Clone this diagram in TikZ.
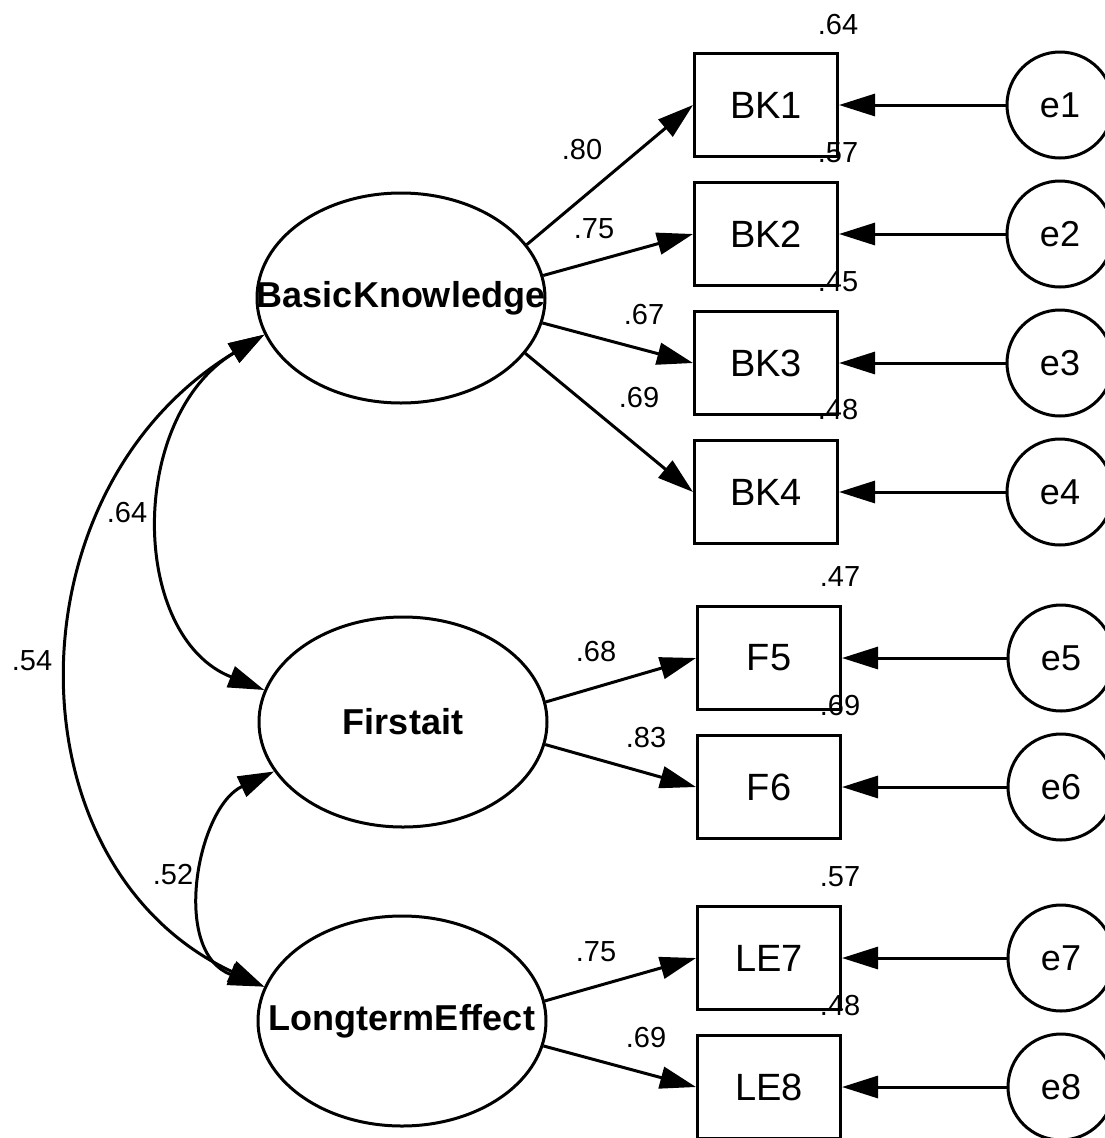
\documentclass[tikz,border=0pt]{standalone}
\usepackage{fontspec}
\setmainfont{Liberation Sans}
\usetikzlibrary{shapes.geometric,arrows.meta}
\begin{document}
\begin{tikzpicture}[x=1pt,y=-1pt,
  lat/.style={draw,ellipse,line width=3pt,minimum width=288pt,minimum height=210pt,inner sep=0pt},
  lattext/.style={font=\fontsize{36}{40}\selectfont\bfseries,inner sep=0pt},
  obs/.style={draw,rectangle,line width=3pt,minimum width=143pt,minimum height=103pt,inner sep=0pt,font=\fontsize{38}{42}\selectfont},
  err/.style={draw,circle,line width=3pt,minimum size=106pt,inner sep=0pt,font=\fontsize{36}{40}\selectfont},
  coef/.style={font=\fontsize{29}{32}\selectfont,inner sep=0pt},
  arr/.style={line width=3pt,-{Triangle[length=36pt,width=22pt]}},
  cov/.style={line width=3pt,{Triangle[length=36pt,width=22pt]}-{Triangle[length=36pt,width=22pt]}}]
\useasboundingbox (0,0) rectangle (1104,1138);
\fill[white] (0,0) rectangle (1104,1138);
% latent variables
\node[lat] (BK) at (401,298) {};
\node[lattext] (BKt) at (BK) {BasicKnowledge};
\node[lat] (F) at (403,722) {};
\node[lattext] (Ft) at (F) {Firstait};
\node[lat] (LE) at (402,1021) {};
\node[lattext] (LEt) at (LE) {LongtermEffect};
% observed
\node[obs] (BK1) at (766,105) {BK1};
\node[obs] (BK2) at (766,234) {BK2};
\node[obs] (BK3) at (766,363) {BK3};
\node[obs] (BK4) at (766,492) {BK4};
\node[obs] (F5) at (769,658) {F5};
\node[obs] (F6) at (769,787) {F6};
\node[obs] (LE7) at (769,958) {LE7};
\node[obs] (LE8) at (769,1087) {LE8};
% errors
\node[err] (e1) at (1060,105) {e1};
\node[err] (e2) at (1060,234) {e2};
\node[err] (e3) at (1060,363) {e3};
\node[err] (e4) at (1060,492) {e4};
\node[err] (e5) at (1061,658) {e5};
\node[err] (e6) at (1061,787) {e6};
\node[err] (e7) at (1061,958) {e7};
\node[err] (e8) at (1061,1087) {e8};
% loadings
\draw[arr] (BK.23.6) -- (BK1.west);
\draw[arr] (BK.9) -- (BK2.west);
\draw[arr] (BK.350.5) -- (BK3.west);
\draw[arr] (BK.336) -- (BK4.west);
\draw[arr] (F.8.7) -- (F5.west);
\draw[arr] (F.351) -- (F6.west);
\draw[arr] (LE.8.3) -- (LE7.west);
\draw[arr] (LE.350.5) -- (LE8.west);
% error paths
\foreach \i/\b in {1/BK1,2/BK2,3/BK3,4/BK4,5/F5,6/F6,7/LE7,8/LE8}
  \draw[arr] (e\i.west) -- (\b.east);
% covariances
\draw[cov] (BK.195) to[out=211,in=158.5,out distance=160pt,in distance=145pt] (F.167);
\draw[cov] (BK.195) to[out=211,in=155,out distance=300pt,in distance=285pt] (LE.166);
\draw[cov] (F.201) to[out=205,in=160,out distance=85pt,in distance=100pt] (LE.166);
% loading labels
\node[coef] (l1) at (582,150) {.80};
\node[coef] (l2) at (594,229) {.75};
\node[coef] (l3) at (644,315) {.67};
\node[coef] (l4) at (639,398) {.69};
\node[coef] (l5) at (596,652) {.68};
\node[coef] (l6) at (646,738) {.83};
\node[coef] (l7) at (596,952) {.75};
\node[coef] (l8) at (646,1038) {.69};
% squared multiple correlations
\node[coef] (r1) at (838,25) {.64};
\node[coef] (r2) at (838,153) {.57};
\node[coef] (r3) at (838,282) {.45};
\node[coef] (r4) at (838,410) {.48};
\node[coef] (r5) at (840,577) {.47};
\node[coef] (r6) at (840,706) {.69};
\node[coef] (r7) at (840,877) {.57};
\node[coef] (r8) at (840,1006) {.48};
% covariance labels
\node[coef] (c1) at (127,513) {.64};
\node[coef] (c2) at (32,661) {.54};
\node[coef] (c3) at (173,875) {.52};
\end{tikzpicture}
\end{document}
